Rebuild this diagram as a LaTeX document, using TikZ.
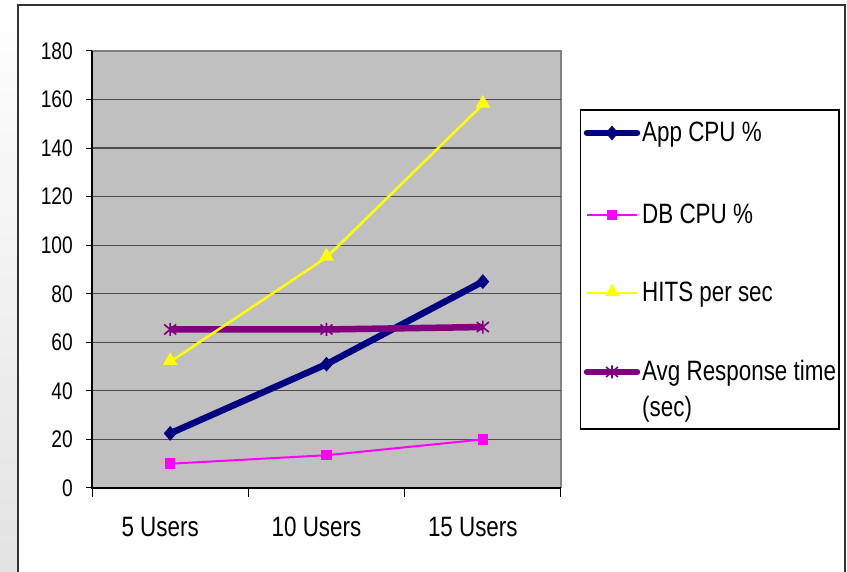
\documentclass[tikz,border=0pt]{standalone}
\usepackage{fontspec}
\setmainfont{Liberation Sans}[FakeStretch=0.8]
\usetikzlibrary{positioning,shapes.geometric,calc}

\definecolor{appblue}{RGB}{0,0,128}
\definecolor{dbpink}{RGB}{255,0,255}
\definecolor{hitsyellow}{RGB}{255,255,0}
\definecolor{avgpurple}{RGB}{128,0,128}
\definecolor{plotgray}{RGB}{192,192,192}

\tikzset{
  ticklabel/.style={font=\fontsize{24}{24}\selectfont, anchor=east, inner sep=0pt},
  catlabel/.style={font=\fontsize{28}{28}\selectfont, inner sep=0pt},
  legendtext/.style={font=\fontsize{28}{28}\selectfont, anchor=base west, inner sep=0pt},
  appline/.style={appblue, line width=6.5pt},
  dbline/.style={dbpink, line width=2pt},
  hitsline/.style={hitsyellow, line width=2.5pt},
  avgline/.style={avgpurple, line width=6.5pt},
  appmark/.style={diamond, fill=appblue, minimum width=13pt, minimum height=15pt, inner sep=0pt},
  dbmark/.style={rectangle, fill=dbpink, minimum size=10.5pt, inner sep=0pt},
  hitsmark/.style={regular polygon, regular polygon sides=3, fill=hitsyellow, minimum size=17pt, inner sep=0pt},
  avgmark/.pic={
    \draw[avgpurple, line width=1.6pt] (0pt,-6.5pt) -- (0pt,6.5pt)
      (-6pt,-5pt) -- (6pt,5pt) (-6pt,5pt) -- (6pt,-5pt);
  }
}

\begin{document}
\begin{tikzpicture}[x=1pt, y=1pt]
  \useasboundingbox (0,0) rectangle (847,572);
  % slide background and frame
  \shade[top color=white, bottom color=gray!22] (0,0) rectangle (18,572);
  \draw[line width=2pt, black!80] (18,-5) -- (18,566.5) -- (845,566.5) -- (845,-5);

  % plot area
  \begin{scope}[shift={(92,84)}, x=156.33pt, y=2.4278pt]
    \fill[plotgray] (0,0) rectangle (3,180);
    \draw[gray, line width=1.5pt] (0,180) -- (3,180) -- (3,0);
    \foreach \v in {20,40,...,160}
      \draw[black!70, line width=1.2pt] (0,\v) -- (3,\v);
    \foreach \v in {0,20,...,180} {
      \draw[line width=1pt] (0,\v) -- ++(-6pt,0);
      \node[ticklabel] (tick\v) at ([xshift=-19pt]0,\v) {\v};
    }
    \draw[line width=1.2pt] (0,180) -- (0,0) -- (3,0);
    \foreach \i in {0,...,3}
      \draw[line width=1pt] (\i,0) -- ++(0,-9pt);
    \foreach \i/\t in {0.5/5 Users, 1.5/10 Users, 2.5/15 Users}
      \node[catlabel] (cat\i) at ([xshift=-10pt, yshift=-39pt]\i,0) {\t};

    % data points
    \foreach \s/\a/\b/\c in {app/22.5/51/85, db/10/13.5/20, hits/52/95/158, avg/65.3/65.3/66.3} {
      \coordinate (\s1) at (0.5,\a);
      \coordinate (\s2) at (1.5,\b);
      \coordinate (\s3) at (2.5,\c);
    }
  \end{scope}

  % series
  \draw[appline] (app1) -- (app2) -- (app3);
  \foreach \p in {app1,app2,app3} \node[appmark] at (\p) {};
  \draw[dbline] (db1) -- (db2) -- (db3);
  \foreach \p in {db1,db2,db3} \node[dbmark] at (\p) {};
  \draw[avgline] (avg1) -- (avg2) -- (avg3);
  \foreach \p in {avg1,avg2,avg3} \pic at (\p) {avgmark};
  \draw[hitsline] (hits1) -- (hits2) -- (hits3);
  \foreach \p in {hits1,hits2,hits3} \node[hitsmark] at ([yshift=1pt]\p) {};

  % legend
  \draw[line width=1.2pt] (580.5,143) rectangle (839,462);
  \coordinate (appl) at (587,439);   \coordinate (appr) at (637,439);
  \coordinate (dbl) at (587,357);    \coordinate (dbr) at (637,357);
  \coordinate (hitsl) at (587,279);  \coordinate (hitsr) at (637,279);
  \coordinate (avgl) at (587,200);   \coordinate (avgr) at (637,200);
  \draw[appline, line cap=round] (appl) -- (appr);
  \node[appmark] at ($(appl)!0.5!(appr)$) {};
  \draw[dbline] (dbl) -- (dbr);
  \node[dbmark] at ($(dbl)!0.5!(dbr)$) {};
  \draw[hitsline] (hitsl) -- (hitsr);
  \node[hitsmark] at ($(hitsl)!0.5!(hitsr)+(0,1)$) {};
  \draw[avgline, line cap=round] (avgl) -- (avgr);
  \pic at ($(avgl)!0.5!(avgr)$) {avgmark};

  \node[legendtext] (apptext) at ([xshift=5pt, yshift=-9pt]appr) {App CPU \%};
  \node[legendtext] (dbtext) at ([xshift=5pt, yshift=-9pt]dbr) {DB CPU \%};
  \node[legendtext] (hitstext) at ([xshift=5pt, yshift=-9pt]hitsr) {HITS per sec};
  \node[legendtext] (avgtext) at ([xshift=5pt, yshift=-9pt]avgr) {Avg Response time};
  \node[legendtext] (avgsec) at ([yshift=-36pt]avgtext.base west) {(sec)};
\end{tikzpicture}
\end{document}
